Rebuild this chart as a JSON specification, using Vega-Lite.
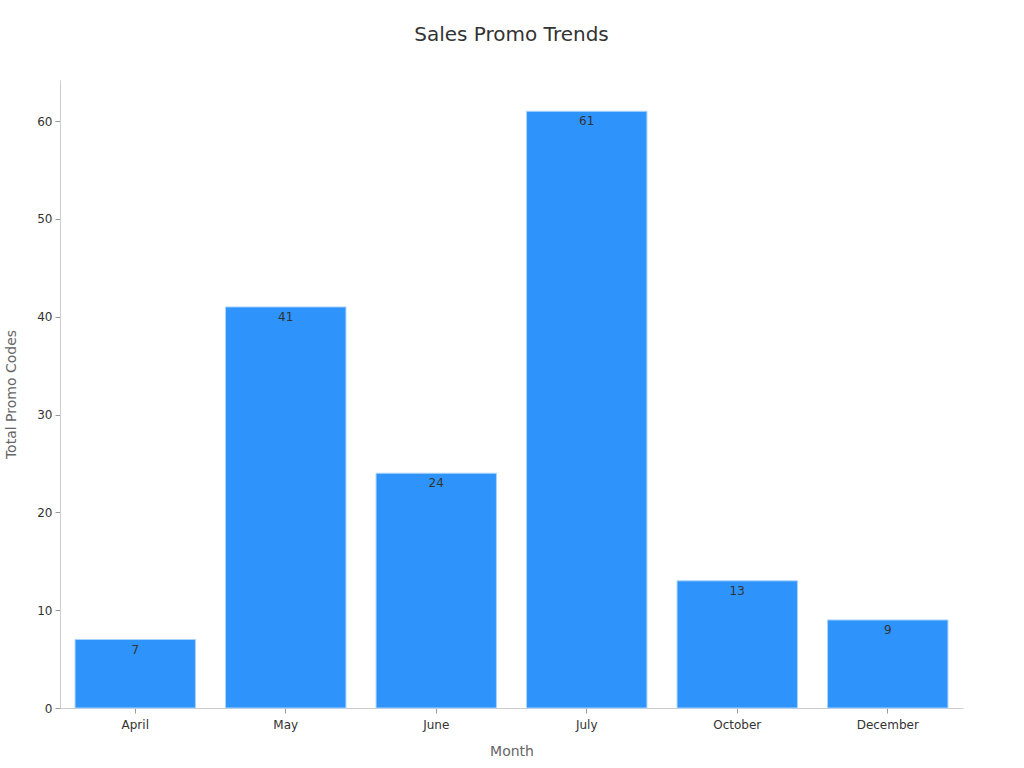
{
  "$schema": "https://vega.github.io/schema/vega-lite/v6.json",
  "width": 903,
  "height": 628,
  "autosize": {"type": "none"},
  "padding": {"left": 60, "top": 80, "right": 61, "bottom": 60},
  "background": "white",
  "title": {
    "text": "Sales Promo Trends",
    "font": "DejaVu Sans",
    "fontSize": 20,
    "fontWeight": "normal",
    "color": "#333333",
    "anchor": "middle",
    "frame": "group",
    "offset": 35
  },
  "config": {
    "view": {"stroke": null},
    "font": "DejaVu Sans"
  },
  "data": {
    "values": [
      {"month": "April", "codes": 7},
      {"month": "May", "codes": 41},
      {"month": "June", "codes": 24},
      {"month": "July", "codes": 61},
      {"month": "October", "codes": 13},
      {"month": "December", "codes": 9}
    ]
  },
  "encoding": {
    "x": {
      "field": "month",
      "type": "nominal",
      "sort": null,
      "title": "Month",
      "scale": {"paddingInner": 0.2, "paddingOuter": 0.1},
      "axis": {
        "labelAngle": 0,
        "labelFontSize": 12,
        "labelColor": "#333333",
        "labelPadding": 6,
        "titleFontSize": 14,
        "titleFontWeight": "normal",
        "titleColor": "#666666",
        "titlePadding": 14,
        "domainColor": "#cccccc",
        "tickColor": "#999999",
        "tickSize": 5
      }
    },
    "y": {
      "field": "codes",
      "type": "quantitative",
      "title": "Total Promo Codes",
      "scale": {"domain": [0, 64.2], "nice": false},
      "axis": {
        "values": [0, 10, 20, 30, 40, 50, 60],
        "grid": false,
        "labelFontSize": 12,
        "labelColor": "#333333",
        "labelPadding": 3,
        "titleFontSize": 14,
        "titleFontWeight": "normal",
        "titleColor": "#666666",
        "titlePadding": 18,
        "domainColor": "#cccccc",
        "tickColor": "#999999",
        "tickSize": 5
      }
    }
  },
  "layer": [
    {
      "mark": {"type": "bar", "color": "#2E93FA", "stroke": "#A9D3FF", "strokeWidth": 1}
    },
    {
      "mark": {"type": "text", "baseline": "top", "dy": 5, "fontSize": 12, "color": "#333333"},
      "encoding": {"text": {"field": "codes", "type": "quantitative"}}
    }
  ]
}
